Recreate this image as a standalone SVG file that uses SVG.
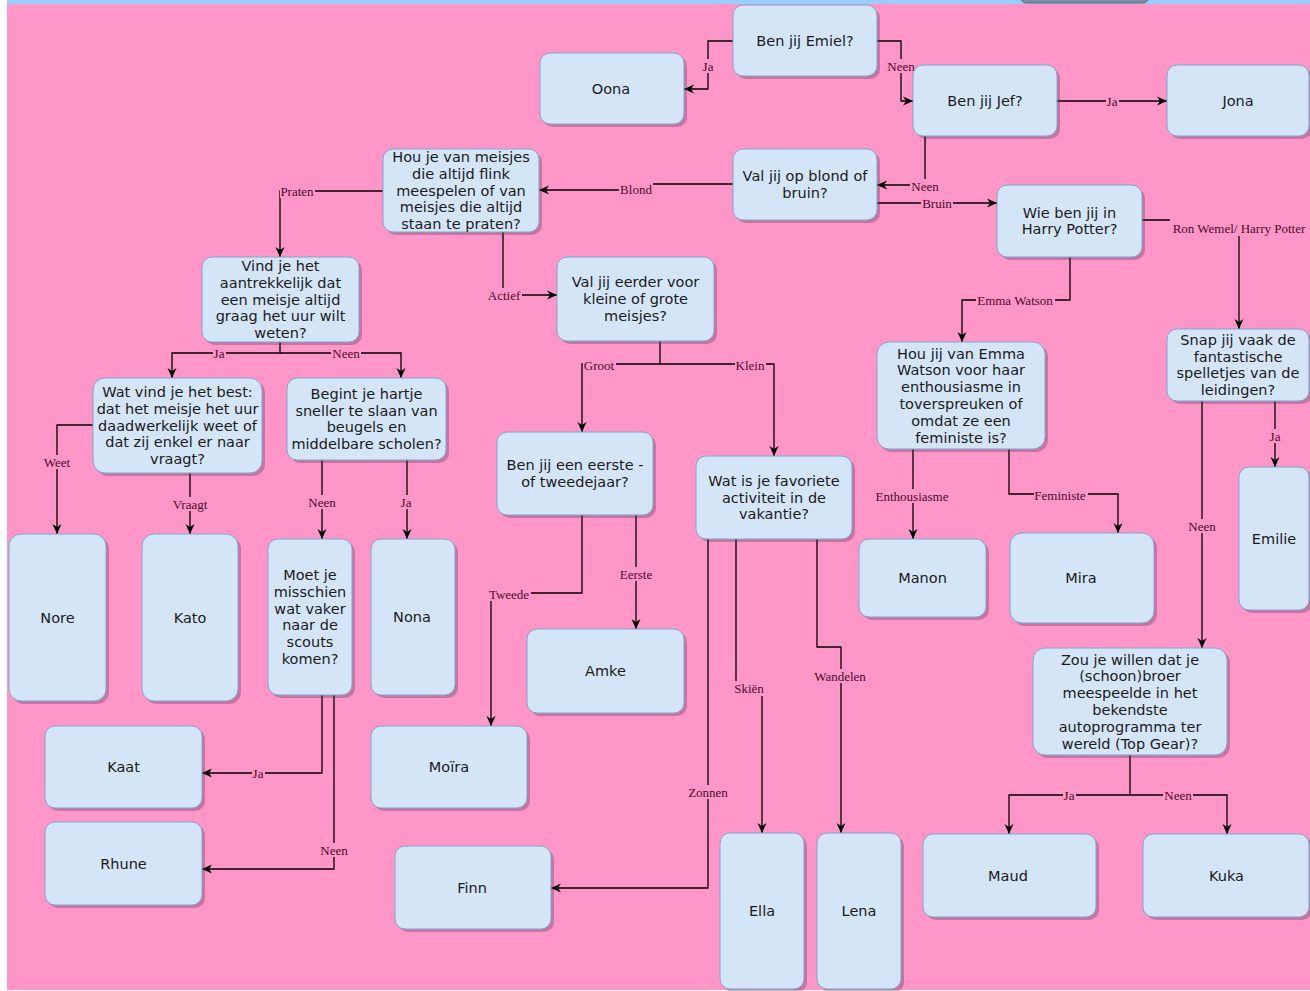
<svg xmlns="http://www.w3.org/2000/svg" width="1310" height="991" viewBox="0 0 1310 991">
<defs>
<style>
.nd{fill:#D5E5F8;stroke:#7FA5D2;stroke-width:1}
.sh{fill:#5a3a55;opacity:.35}
.t{font-family:"DejaVu Sans",Verdana,sans-serif;font-size:14.5px;fill:#1a1a1a;text-anchor:middle}
.e{fill:none;stroke:#000;stroke-width:1.3;marker-end:url(#a)}
.lb{fill:#FF96C8}
.l{font-family:"Liberation Serif","Times New Roman",serif;font-size:13px;fill:#4a0c2c;text-anchor:middle}
</style>
<marker id="a" viewBox="0 0 10 10" refX="10" refY="5" markerWidth="10" markerHeight="10" markerUnits="userSpaceOnUse" orient="auto">
<path d="M0,0.5 L10,5 L0,9.5 L3,5 Z" fill="#000"/>
</marker>
</defs>
<rect x="0" y="0" width="1310" height="991" fill="#fff"/>
<rect x="7" y="4" width="1303" height="986" fill="#FF96C8"/>
<rect x="7" y="0" width="1303" height="4" fill="#99CCFF"/>
<rect x="1021" y="-10" width="127" height="13" rx="5" fill="#7d8ea3" stroke="#5d6e83"/>

<g id="connectors">
<path class="e" d="M733,41 H708 V89 H684"/>
<path class="e" d="M877,41 H901 V101 H913"/>
<path class="e" d="M1057,101 H1167"/>
<path class="e" d="M925,136 V185 H877"/>
<path class="e" d="M877,203 H997"/>
<path class="e" d="M733,184 H636 V190 H539"/>
<path class="e" d="M383,191 H280 V257"/>
<path class="e" d="M503,232 V295 H557"/>
<path class="e" d="M1070,257 V300 H962 V342"/>
<path class="e" d="M1142,220 H1239 V329"/>
<path class="e" d="M913,449 V539"/>
<path class="e" d="M1009,449 V494 H1118 V533"/>
<path class="e" d="M1275,401 V467"/>
<path class="e" d="M1202,401 V648"/>
<path class="e" d="M1130,755 V795 H1009 V834"/>
<path class="e" d="M1130,795 H1227 V834"/>
<path class="e" d="M280,342 V353 H172 V378"/>
<path class="e" d="M280,353 H401 V378"/>
<path class="e" d="M93,425 H57 V534"/>
<path class="e" d="M190,473 V534"/>
<path class="e" d="M322,460 V539"/>
<path class="e" d="M407,460 V539"/>
<path class="e" d="M322,695 V773 H202"/>
<path class="e" d="M334,695 V869 H202"/>
<path class="e" d="M660,341 V364 H582 V432"/>
<path class="e" d="M660,364 H774 V456"/>
<path class="e" d="M636,515 V629"/>
<path class="e" d="M582,515 V593 H491 V726"/>
<path class="e" d="M708,539 V888 H551"/>
<path class="e" d="M736,539 V688 H762 V833"/>
<path class="e" d="M817,539 V647 H841 V833"/>

<rect class="lb" x="701" y="59" width="13" height="14"/><text class="l" x="708" y="70.5">Ja</text>
<rect class="lb" x="886" y="59" width="30" height="14"/><text class="l" x="901" y="70.5">Neen</text>
<rect class="lb" x="1106" y="94" width="13" height="14"/><text class="l" x="1112" y="105.5">Ja</text>
<rect class="lb" x="910" y="179" width="30" height="14"/><text class="l" x="925" y="190.5">Neen</text>
<rect class="lb" x="921" y="196" width="32" height="14"/><text class="l" x="937" y="207.5">Bruin</text>
<rect class="lb" x="619" y="181" width="34" height="16"/><text class="l" x="636" y="193.5">Blond</text>
<rect class="lb" x="280" y="184" width="35" height="14"/><text class="l" x="297" y="195.5">Praten</text>
<rect class="lb" x="487" y="288" width="35" height="14"/><text class="l" x="504" y="299.5">Actief</text>
<rect class="lb" x="976" y="293" width="79" height="14"/><text class="l" x="1015" y="304.5">Emma Watson</text>
<rect class="lb" x="1170" y="213" width="138" height="23"/><text class="l" x="1239" y="232.5">Ron Wemel/ Harry Potter</text>
<rect class="lb" x="875" y="489" width="76" height="14"/><text class="l" x="912" y="500.5">Enthousiasme</text>
<rect class="lb" x="1034" y="488" width="54" height="14"/><text class="l" x="1060" y="499.5">Feministe</text>
<rect class="lb" x="1268" y="429" width="13" height="14"/><text class="l" x="1275" y="440.5">Ja</text>
<rect class="lb" x="1187" y="519" width="30" height="14"/><text class="l" x="1202" y="530.5">Neen</text>
<rect class="lb" x="1063" y="788" width="13" height="14"/><text class="l" x="1069" y="799.5">Ja</text>
<rect class="lb" x="1163" y="788" width="30" height="14"/><text class="l" x="1178" y="799.5">Neen</text>
<rect class="lb" x="213" y="346" width="13" height="14"/><text class="l" x="219" y="357.5">Ja</text>
<rect class="lb" x="331" y="346" width="30" height="14"/><text class="l" x="346" y="357.5">Neen</text>
<rect class="lb" x="43" y="455" width="30" height="14"/><text class="l" x="57" y="466.5">Weet</text>
<rect class="lb" x="172" y="497" width="38" height="14"/><text class="l" x="190" y="508.5">Vraagt</text>
<rect class="lb" x="307" y="495" width="30" height="14"/><text class="l" x="322" y="506.5">Neen</text>
<rect class="lb" x="400" y="495" width="13" height="14"/><text class="l" x="406" y="506.5">Ja</text>
<rect class="lb" x="252" y="766" width="13" height="14"/><text class="l" x="258" y="777.5">Ja</text>
<rect class="lb" x="319" y="843" width="30" height="14"/><text class="l" x="334" y="854.5">Neen</text>
<rect class="lb" x="583" y="358" width="33" height="14"/><text class="l" x="599" y="369.5">Groot</text>
<rect class="lb" x="735" y="358" width="31" height="14"/><text class="l" x="750" y="369.5">Klein</text>
<rect class="lb" x="619" y="567" width="35" height="14"/><text class="l" x="636" y="578.5">Eerste</text>
<rect class="lb" x="487" y="587" width="44" height="14"/><text class="l" x="509" y="598.5">Tweede</text>
<rect class="lb" x="687" y="785" width="42" height="14"/><text class="l" x="708" y="796.5">Zonnen</text>
<rect class="lb" x="733" y="681" width="32" height="15"/><text class="l" x="749" y="692.5">Skiën</text>
<rect class="lb" x="813" y="669" width="55" height="14"/><text class="l" x="840" y="680.5">Wandelen</text>
</g>

<g id="n-emiel"><rect class="sh" x="736" y="8" width="144" height="71" rx="10"/><rect class="nd" x="733" y="5" width="144" height="71" rx="10"/><text class="t" x="805" y="45.5">Ben jij Emiel?</text></g>
<g id="n-oona"><rect class="sh" x="543" y="56" width="144" height="71" rx="10"/><rect class="nd" x="540" y="53" width="144" height="71" rx="10"/><text class="t" x="611" y="93.5">Oona</text></g>
<g id="n-jef"><rect class="sh" x="916" y="68" width="144" height="71" rx="10"/><rect class="nd" x="913" y="65" width="144" height="71" rx="10"/><text class="t" x="985" y="105.5">Ben jij Jef?</text></g>
<g id="n-jona"><rect class="sh" x="1170" y="68" width="142" height="71" rx="10"/><rect class="nd" x="1167" y="65" width="142" height="71" rx="10"/><text class="t" x="1238" y="105.5">Jona</text></g>
<g id="n-blond"><rect class="sh" x="736" y="152" width="144" height="71" rx="10"/><rect class="nd" x="733" y="149" width="144" height="71" rx="10"/><text class="t"><tspan x="805" y="181.1">Val jij op blond of</tspan><tspan x="805" y="197.9">bruin?</tspan></text></g>
<g id="n-houje"><rect class="sh" x="386" y="152" width="156" height="83" rx="10"/><rect class="nd" x="383" y="149" width="156" height="83" rx="10"/><text class="t"><tspan x="461" y="161.9">Hou je van meisjes</tspan><tspan x="461" y="178.7">die altijd flink</tspan><tspan x="461" y="195.5">meespelen of van</tspan><tspan x="461" y="212.3">meisjes die altijd</tspan><tspan x="461" y="229.1">staan te praten?</tspan></text></g>
<g id="n-hp"><rect class="sh" x="1000" y="188" width="145" height="72" rx="10"/><rect class="nd" x="997" y="185" width="145" height="72" rx="10"/><text class="t"><tspan x="1069.5" y="217.6">Wie ben jij in</tspan><tspan x="1069.5" y="234.4">Harry Potter?</tspan></text></g>
<g id="n-vind"><rect class="sh" x="205" y="260" width="157" height="85" rx="10"/><rect class="nd" x="202" y="257" width="157" height="85" rx="10"/><text class="t"><tspan x="280.5" y="270.9">Vind je het</tspan><tspan x="280.5" y="287.7">aantrekkelijk dat</tspan><tspan x="280.5" y="304.5">een meisje altijd</tspan><tspan x="280.5" y="321.3">graag het uur wilt</tspan><tspan x="280.5" y="338.1">weten?</tspan></text></g>
<g id="n-valeerder"><rect class="sh" x="560" y="260" width="157" height="84" rx="10"/><rect class="nd" x="557" y="257" width="157" height="84" rx="10"/><text class="t"><tspan x="635.5" y="287.2">Val jij eerder voor</tspan><tspan x="635.5" y="304">kleine of grote</tspan><tspan x="635.5" y="320.8">meisjes?</tspan></text></g>
<g id="n-snap"><rect class="sh" x="1170" y="332" width="142" height="72" rx="10"/><rect class="nd" x="1167" y="329" width="142" height="72" rx="10"/><text class="t"><tspan x="1238" y="344.8">Snap jij vaak de</tspan><tspan x="1238" y="361.6">fantastische</tspan><tspan x="1238" y="378.4">spelletjes van de</tspan><tspan x="1238" y="395.2">leidingen?</tspan></text></g>
<g id="n-emma"><rect class="sh" x="880" y="345" width="168" height="107" rx="12"/><rect class="nd" x="877" y="342" width="168" height="107" rx="12"/><text class="t"><tspan x="961" y="358.5">Hou jij van Emma</tspan><tspan x="961" y="375.3">Watson voor haar</tspan><tspan x="961" y="392.1">enthousiasme in</tspan><tspan x="961" y="408.9">toverspreuken of</tspan><tspan x="961" y="425.7">omdat ze een</tspan><tspan x="961" y="442.5">feministe is?</tspan></text></g>
<g id="n-watvind"><rect class="sh" x="96" y="381" width="169" height="95" rx="12"/><rect class="nd" x="93" y="378" width="169" height="95" rx="12"/><text class="t"><tspan x="177.5" y="396.9">Wat vind je het best:</tspan><tspan x="177.5" y="413.7">dat het meisje het uur</tspan><tspan x="177.5" y="430.5">daadwerkelijk weet of</tspan><tspan x="177.5" y="447.3">dat zij enkel er naar</tspan><tspan x="177.5" y="464.1">vraagt?</tspan></text></g>
<g id="n-begint"><rect class="sh" x="290" y="381" width="159" height="82" rx="10"/><rect class="nd" x="287" y="378" width="159" height="82" rx="10"/><text class="t"><tspan x="366.5" y="398.8">Begint je hartje</tspan><tspan x="366.5" y="415.6">sneller te slaan van</tspan><tspan x="366.5" y="432.4">beugels en</tspan><tspan x="366.5" y="449.2">middelbare scholen?</tspan></text></g>
<g id="n-eerste"><rect class="sh" x="500" y="435" width="156" height="83" rx="10"/><rect class="nd" x="497" y="432" width="156" height="83" rx="10"/><text class="t"><tspan x="575" y="470.1">Ben jij een eerste -</tspan><tspan x="575" y="486.9">of tweedejaar?</tspan></text></g>
<g id="n-watis"><rect class="sh" x="699" y="459" width="156" height="83" rx="10"/><rect class="nd" x="696" y="456" width="156" height="83" rx="10"/><text class="t"><tspan x="774" y="485.7">Wat is je favoriete</tspan><tspan x="774" y="502.5">activiteit in de</tspan><tspan x="774" y="519.3">vakantie?</tspan></text></g>
<g id="n-emilie"><rect class="sh" x="1242" y="470" width="70" height="143" rx="10"/><rect class="nd" x="1239" y="467" width="70" height="143" rx="10"/><text class="t" x="1274" y="543.5">Emilie</text></g>
<g id="n-nore"><rect class="sh" x="12" y="537" width="97" height="167" rx="12"/><rect class="nd" x="9" y="534" width="97" height="167" rx="12"/><text class="t" x="57.5" y="622.5">Nore</text></g>
<g id="n-kato"><rect class="sh" x="145" y="537" width="96" height="167" rx="12"/><rect class="nd" x="142" y="534" width="96" height="167" rx="12"/><text class="t" x="190" y="622.5">Kato</text></g>
<g id="n-manon"><rect class="sh" x="862" y="542" width="127" height="78" rx="10"/><rect class="nd" x="859" y="539" width="127" height="78" rx="10"/><text class="t" x="922.5" y="583">Manon</text></g>
<g id="n-mira"><rect class="sh" x="1013" y="536" width="144" height="90" rx="12"/><rect class="nd" x="1010" y="533" width="144" height="90" rx="12"/><text class="t" x="1081" y="583">Mira</text></g>
<g id="n-moet"><rect class="sh" x="271" y="542" width="84" height="156" rx="10"/><rect class="nd" x="268" y="539" width="84" height="156" rx="10"/><text class="t"><tspan x="310" y="580">Moet je</tspan><tspan x="310" y="596.8">misschien</tspan><tspan x="310" y="613.6">wat vaker</tspan><tspan x="310" y="630.4">naar de</tspan><tspan x="310" y="647.2">scouts</tspan><tspan x="310" y="664">komen?</tspan></text></g>
<g id="n-nona"><rect class="sh" x="374" y="542" width="84" height="156" rx="10"/><rect class="nd" x="371" y="539" width="84" height="156" rx="10"/><text class="t" x="412" y="622">Nona</text></g>
<g id="n-amke"><rect class="sh" x="530" y="632" width="157" height="84" rx="10"/><rect class="nd" x="527" y="629" width="157" height="84" rx="10"/><text class="t" x="605.5" y="676">Amke</text></g>
<g id="n-zou"><rect class="sh" x="1036" y="651" width="194" height="107" rx="12"/><rect class="nd" x="1033" y="648" width="194" height="107" rx="12"/><text class="t"><tspan x="1130" y="664.5">Zou je willen dat je</tspan><tspan x="1130" y="681.3">(schoon)broer</tspan><tspan x="1130" y="698.1">meespeelde in het</tspan><tspan x="1130" y="714.9">bekendste</tspan><tspan x="1130" y="731.7">autoprogramma ter</tspan><tspan x="1130" y="748.5">wereld (Top Gear)?</tspan></text></g>
<g id="n-kaat"><rect class="sh" x="48" y="729" width="157" height="82" rx="10"/><rect class="nd" x="45" y="726" width="157" height="82" rx="10"/><text class="t" x="123.5" y="772">Kaat</text></g>
<g id="n-moira"><rect class="sh" x="374" y="729" width="156" height="82" rx="10"/><rect class="nd" x="371" y="726" width="156" height="82" rx="10"/><text class="t" x="449" y="772">Moïra</text></g>
<g id="n-maud"><rect class="sh" x="926" y="837" width="173" height="83" rx="10"/><rect class="nd" x="923" y="834" width="173" height="83" rx="10"/><text class="t" x="1008" y="880.5">Maud</text></g>
<g id="n-kuka"><rect class="sh" x="1146" y="837" width="166" height="83" rx="10"/><rect class="nd" x="1143" y="834" width="166" height="83" rx="10"/><text class="t" x="1226.5" y="880.5">Kuka</text></g>
<g id="n-rhune"><rect class="sh" x="48" y="825" width="157" height="83" rx="10"/><rect class="nd" x="45" y="822" width="157" height="83" rx="10"/><text class="t" x="123.5" y="868.5">Rhune</text></g>
<g id="n-finn"><rect class="sh" x="398" y="849" width="156" height="83" rx="10"/><rect class="nd" x="395" y="846" width="156" height="83" rx="10"/><text class="t" x="472" y="892.5">Finn</text></g>
<g id="n-ella"><rect class="sh" x="723" y="836" width="84" height="156" rx="10"/><rect class="nd" x="720" y="833" width="84" height="156" rx="10"/><text class="t" x="762" y="916">Ella</text></g>
<g id="n-lena"><rect class="sh" x="820" y="836" width="84" height="156" rx="10"/><rect class="nd" x="817" y="833" width="84" height="156" rx="10"/><text class="t" x="859" y="916">Lena</text></g>
</svg>
